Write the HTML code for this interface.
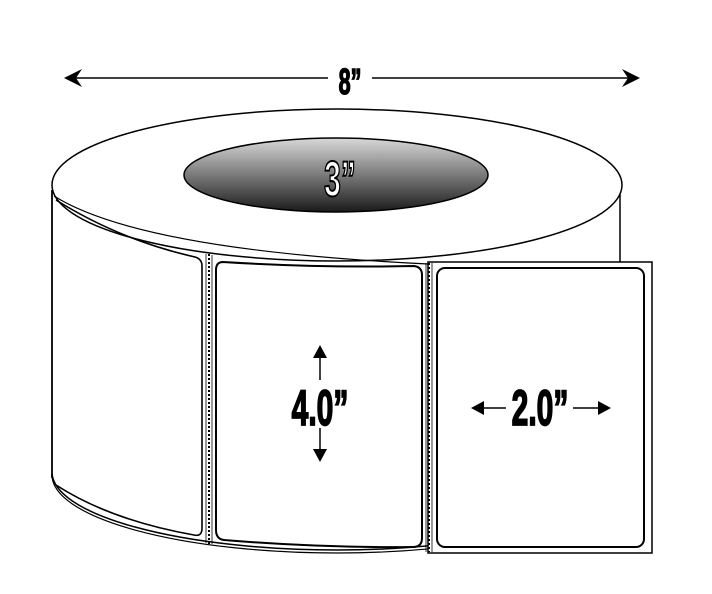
<!DOCTYPE html>
<html><head><style>html,body{margin:0;padding:0;background:#fff}svg{display:block}</style></head>
<body>
<svg width="712" height="594" viewBox="0 0 712 594" xmlns="http://www.w3.org/2000/svg">
<defs>
<linearGradient id="g" x1="0" y1="0" x2="0" y2="1">
<stop offset="0" stop-color="#d8d8d8"/><stop offset="0.5" stop-color="#7a7a7a"/><stop offset="1" stop-color="#1a1a1a"/>
</linearGradient>
<clipPath id="bot"><rect x="0" y="474" width="428" height="120"/></clipPath>
</defs>
<!-- 8" arrow -->
<line x1="72" y1="78" x2="328" y2="78" stroke="#000" stroke-width="1.5"/>
<line x1="372" y1="78" x2="628" y2="78" stroke="#000" stroke-width="1.5"/>
<path d="M64 78 L82 69 L76 78 L82 87 Z" fill="#000"/>
<path d="M640 78 L622 69 L628 78 L622 87 Z" fill="#000"/>
<text x="350" y="94" text-anchor="middle" font-family="Liberation Sans, sans-serif" font-weight="bold" font-size="36" stroke="#000" stroke-width="1.5" transform="translate(350 0) scale(0.6 1) translate(-350 0)">8”</text>
<!-- side lines -->
<line x1="52" y1="190" x2="52" y2="478" stroke="#000" stroke-width="1.8"/>
<line x1="620" y1="190" x2="620" y2="262" stroke="#000" stroke-width="1.5"/>
<!-- bottom ellipse arc -->
<g clip-path="url(#bot)" fill="none" stroke="#000">
<ellipse cx="337" cy="472" rx="285" ry="78" stroke-width="1.5"/>
<ellipse cx="337" cy="475" rx="285" ry="78" stroke-width="1.2"/>
</g>
<!-- top ellipse -->
<ellipse cx="337" cy="185" rx="285" ry="76" fill="#fff" stroke="#000" stroke-width="1.5"/>
<path d="M54 196 Q140 250 428 264" fill="none" stroke="#000" stroke-width="1.2"/>
<ellipse cx="336" cy="175" rx="152" ry="37" fill="url(#g)" stroke="#000" stroke-width="1.5"/>
<text x="340" y="196" text-anchor="middle" font-family="Liberation Sans, sans-serif" font-weight="bold" font-size="50" fill="#fff" stroke="#000" stroke-width="2" transform="translate(340 0) scale(0.6 1) translate(-340 0)">3”</text>
<!-- label strip flat -->
<rect x="428" y="262" width="224" height="291" fill="#fff" stroke="#000" stroke-width="1.5"/>
<rect x="437" y="268" width="207" height="279" rx="8" fill="none" stroke="#000" stroke-width="2"/>
<line x1="429" y1="263" x2="429" y2="552" stroke="#000" stroke-width="2" stroke-dasharray="2 2"/>
<line x1="426" y1="263" x2="426" y2="552" stroke="#000" stroke-width="0.8"/>
<line x1="432" y1="263" x2="432" y2="552" stroke="#000" stroke-width="0.8"/>
<!-- middle label -->
<path d="M223 262 Q320 268 414 266 Q422 267 422 275 L422 538 Q422 547 413 547 Q320 548 224 540 Q216 539 216 530 L216 270 Q216 262 223 262 Z" fill="none" stroke="#000" stroke-width="2"/>
<line x1="209" y1="254" x2="209" y2="544" stroke="#000" stroke-width="2" stroke-dasharray="2 2"/>
<line x1="206" y1="254" x2="206" y2="543" stroke="#000" stroke-width="0.8"/>
<line x1="212" y1="255" x2="212" y2="544" stroke="#000" stroke-width="0.8"/>
<!-- left partial label -->
<path d="M56 200 Q120 240 195 257 Q202 259 202 266 L202 528 Q202 537 194 535 Q110 520 56 485" fill="none" stroke="#000" stroke-width="1.6"/>
<!-- 4.0" -->
<line x1="320" y1="352" x2="320" y2="380" stroke="#000" stroke-width="1.5"/>
<path d="M320 345 L313 358 L327 358 Z" fill="#000"/>
<line x1="320" y1="428" x2="320" y2="455" stroke="#000" stroke-width="1.5"/>
<path d="M320 462 L313 449 L327 449 Z" fill="#000"/>
<text x="320" y="425" text-anchor="middle" font-family="Liberation Sans, sans-serif" font-weight="bold" font-size="50" stroke="#000" stroke-width="1.8" transform="translate(320 0) scale(0.6 1) translate(-320 0)">4.0”</text>
<!-- 2.0" -->
<line x1="480" y1="408" x2="506" y2="408" stroke="#000" stroke-width="1.5"/>
<path d="M471 408 L484 401 L484 415 Z" fill="#000"/>
<line x1="573" y1="408" x2="600" y2="408" stroke="#000" stroke-width="1.5"/>
<path d="M611 408 L598 401 L598 415 Z" fill="#000"/>
<text x="540" y="425" text-anchor="middle" font-family="Liberation Sans, sans-serif" font-weight="bold" font-size="50" stroke="#000" stroke-width="1.8" transform="translate(540 0) scale(0.6 1) translate(-540 0)">2.0”</text>
</svg>
</body></html>
